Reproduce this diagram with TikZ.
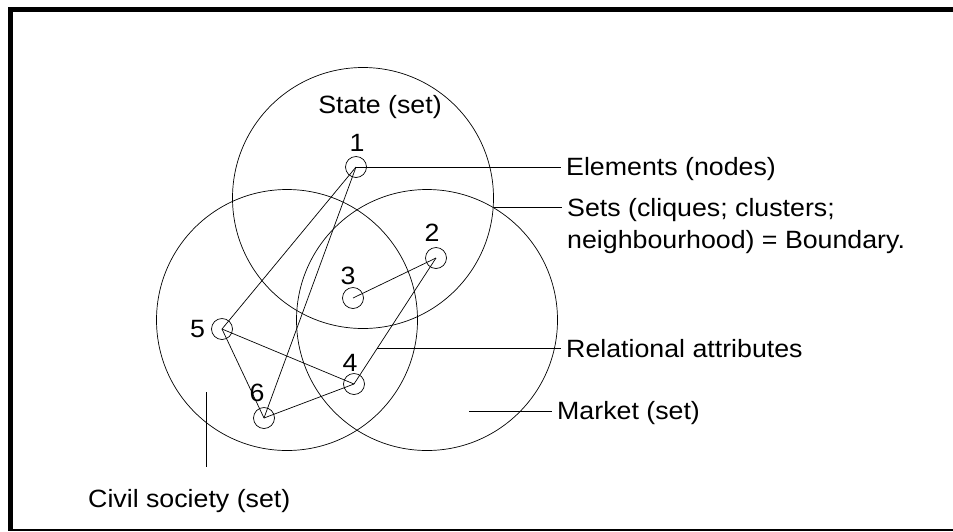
\documentclass[tikz,border=0pt]{standalone}
\usepackage{fontspec}
\setmainfont{Liberation Sans}[FakeStretch=1.07]
\usetikzlibrary{positioning}

\begin{document}
\begin{tikzpicture}[x=1pt, y=-1pt,
        every node/.style={font=\fontsize{25pt}{32.5pt}\selectfont},
        set/.style={circle, draw, line width=0.7pt, inner sep=0pt, minimum size=261pt},
        elem/.style={circle, draw, line width=0.7pt, inner sep=0pt, minimum size=21pt},
        num/.style={inner sep=0pt},
        note/.style={anchor=base west, inner xsep=5pt, inner ysep=0pt, align=left},
        tie/.style={line width=0.7pt},
        lead/.style={line width=0.8pt}]
        \useasboundingbox (0,0) rectangle (953,531);

        % frame
        \draw[line width=5pt] (8,9.5) -- (953,9.5);
        \draw[line width=5pt] (10.5,7) -- (10.5,531);
        \draw[line width=1.5pt] (10,530) -- (953,530);

        % the three sets
        \node (state) [set] at (363,198) {};
        \node (civil) [set] at (287,320) {};
        \node (market) [set] at (427,320) {};
        \node (statename) [anchor=base] at (380,113) {State (set)};

        % elements
        \node (n1) [elem] at (356,167) {};
        \node (n2) [elem] at (436,258) {};
        \node (n3) [elem] at (353,298) {};
        \node (n4) [elem] at (354,384) {};
        \node (n5) [elem] at (222,329) {};
        \node (n6) [elem] at (264,418) {};

        \node (l1) [num, above=4pt of n1, xshift=1pt] {1};
        \node (l2) [num, above=5pt of n2, xshift=-4pt] {2};
        \node (l3) [num, above=2pt of n3, xshift=-5pt] {3};
        \node (l4) [num, above=1pt of n4, xshift=-4pt] {4};
        \node (l5) [num, left=6pt of n5] {5};
        \node (l6) [num, above=5pt of n6, xshift=-7pt] {6};

        % relations
        \draw[tie] (n1.center) -- (n5.center);
        \draw[tie] (n1.center) -- (n6.center);
        \draw[tie] (n3.center) -- (n2.center);
        \draw[tie] (n2.center) -- coordinate[pos=0.72] (rel) (n4.center);
        \draw[tie] (n5.center) -- (n4.center);
        \draw[tie] (n5.center) -- (n6.center);
        \draw[tie] (n6.center) -- (n4.center);

        % notes
        \node (elements) [note] at (561,175.5) {Elements (nodes)};
        \node (sets) [note] at (562,248.5) {Sets (cliques; clusters;\\neighbourhood) = Boundary.};
        \node (relational) [note] at (561,357) {Relational attributes};
        \node (marketname) [note] at (552,419) {Market (set)};
        \node (civilname) [anchor=base west, inner sep=0pt] at (88,507) {Civil society (set)};

        \coordinate (mk) at (469,411);
        \coordinate (cv) at (206,392);
        \coordinate (cvend) at (206,467);

        \draw[lead] (n1.center) -- (n1.center -| elements.west);
        \draw[lead] (state.-4) -- (state.-4 -| sets.west);
        \draw[lead] (rel) -- (rel -| relational.west);
        \draw[lead] (mk) -- (mk -| marketname.west);
        \draw[lead] (cv) -- (cvend);
\end{tikzpicture}
\end{document}
